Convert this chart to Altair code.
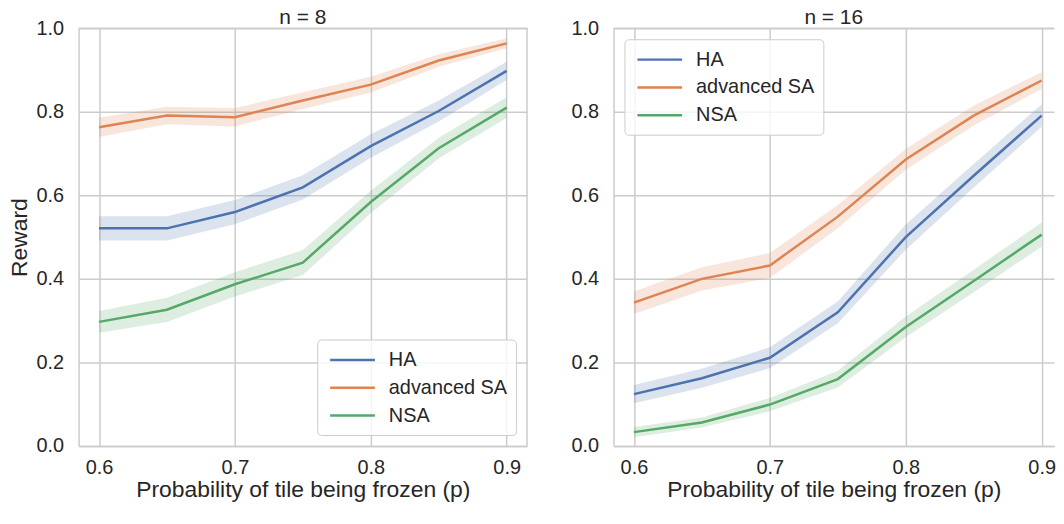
import altair as alt
import pandas as pd

p_values = [0.6, 0.65, 0.7, 0.75, 0.8, 0.85, 0.9]
methods = ["HA", "advanced SA", "NSA"]
colors = ["#4C72B0", "#DD8452", "#55A868"]

# n = 8
ha_8 = [0.521, 0.521, 0.560, 0.619, 0.718, 0.802, 0.898]
ha_8_err = [0.029, 0.029, 0.029, 0.029, 0.028, 0.025, 0.022]
asa_8 = [0.763, 0.791, 0.787, 0.827, 0.865, 0.923, 0.964]
asa_8_err = [0.023, 0.021, 0.022, 0.020, 0.019, 0.015, 0.012]
nsa_8 = [0.297, 0.326, 0.387, 0.439, 0.584, 0.713, 0.810]
nsa_8_err = [0.026, 0.029, 0.029, 0.030, 0.027, 0.025, 0.025]

# n = 16
ha_16 = [0.124, 0.162, 0.211, 0.320, 0.500, 0.647, 0.791]
ha_16_err = [0.022, 0.023, 0.025, 0.026, 0.030, 0.028, 0.027]
asa_16 = [0.343, 0.400, 0.432, 0.549, 0.686, 0.791, 0.875]
asa_16_err = [0.027, 0.028, 0.030, 0.028, 0.025, 0.024, 0.020]
nsa_16 = [0.033, 0.056, 0.099, 0.160, 0.285, 0.395, 0.506]
nsa_16_err = [0.012, 0.012, 0.016, 0.020, 0.025, 0.027, 0.029]

x_ticks = [0.6, 0.7, 0.8, 0.9]
y_ticks = [0.0, 0.2, 0.4, 0.6, 0.8, 1.0]

FONT = "Liberation Sans"
TXT = "#262626"
GRID = "#cccccc"


def make_df(series):
    rows = []
    for m, (vals, errs) in zip(methods, series):
        for p, v, e in zip(p_values, vals, errs):
            rows.append({"p": p, "method": m, "mean": v, "lo": v - e, "hi": v + e})
    return pd.DataFrame(rows)


df8 = make_df([(ha_8, ha_8_err), (asa_8, asa_8_err), (nsa_8, nsa_8_err)])
df16 = make_df([(ha_16, ha_16_err), (asa_16, asa_16_err), (nsa_16, nsa_16_err)])

yscale = alt.Scale(domain=[0, 1], nice=False)
cscale = alt.Scale(domain=methods, range=colors)
H = 420
frame_df = pd.DataFrame({"t": [0]})


def panel(df, title, ytitle, legend_orient, xmax, width, right_border):
    xscale = alt.Scale(domain=[0.585, xmax], nice=False, zero=False)
    legend = alt.Legend(
        title=None,
        orient=legend_orient,
        offset=11,
        symbolType="M-2.25,0H2.25",
        symbolSize=400,
        symbolStrokeWidth=2.5,
        symbolOpacity=1,
        symbolOffset=15,
        labelFontSize=20,
        labelFont=FONT,
        labelColor=TXT,
        labelOffset=25,
        rowPadding=6,
        padding=9,
        strokeColor=GRID,
        fillColor="rgba(255,255,255,0.8)",
        cornerRadius=4,
    )
    base = alt.Chart(df)
    xaxis = alt.Axis(values=x_ticks, format=".1f", title="Probability of tile being frozen (p)")
    yaxis = alt.Axis(values=y_ticks, format=".1f", title=ytitle if ytitle else "")
    band = base.mark_area(opacity=0.2).encode(
        x=alt.X("p:Q", scale=xscale, axis=xaxis),
        y=alt.Y("lo:Q", scale=yscale, axis=yaxis),
        y2="hi:Q",
        color=alt.Color("method:N", scale=cscale, legend=legend),
    )
    line = base.mark_line(strokeWidth=2.5).encode(
        x=alt.X("p:Q", scale=xscale),
        y=alt.Y("mean:Q", scale=yscale),
        color=alt.Color("method:N", scale=cscale, legend=legend),
    )
    top = alt.Chart(frame_df).mark_rule(color=GRID, strokeWidth=1.5).encode(
        y=alt.value(0), x=alt.value(0), x2=alt.value(width)
    )
    layers = [band, line, top]
    if right_border:
        rb = alt.Chart(frame_df).mark_rule(color=GRID, strokeWidth=1.5).encode(
            x=alt.value(width), y=alt.value(0), y2=alt.value(H)
        )
        layers.append(rb)
    return alt.layer(*layers).properties(
        width=width,
        height=H,
        title=alt.TitleParams(title, fontSize=21, font=FONT, color=TXT, fontWeight="normal", offset=-10),
    )


left = panel(df8, "n = 8", "Reward", "bottom-right", 0.915, 451, True)
right = panel(df16, "n = 16", None, "top-left", 0.9091, 443, False)

chart = (
    alt.hconcat(left, right, spacing=43)
    .resolve_legend(color="independent")
    .properties(padding={"top": -2, "left": 0, "right": 0, "bottom": 0})
    .configure_view(strokeOpacity=0)
    .configure_axis(
        grid=True,
        gridColor=GRID,
        gridWidth=1.5,
        domain=True,
        domainColor=GRID,
        domainWidth=1.5,
        ticks=False,
        labelFont=FONT,
        labelFontSize=20,
        labelColor=TXT,
        labelPadding=12,
        titleFont=FONT,
        titleFontSize=23,
        titleColor=TXT,
        titleFontWeight="normal",
        titlePadding=1,
    )
    .configure_axisY(titlePadding=5, titleFontSize=23, labelPadding=15)
)

chart.save("out.html", embed_options={"renderer": "svg", "actions": False})
